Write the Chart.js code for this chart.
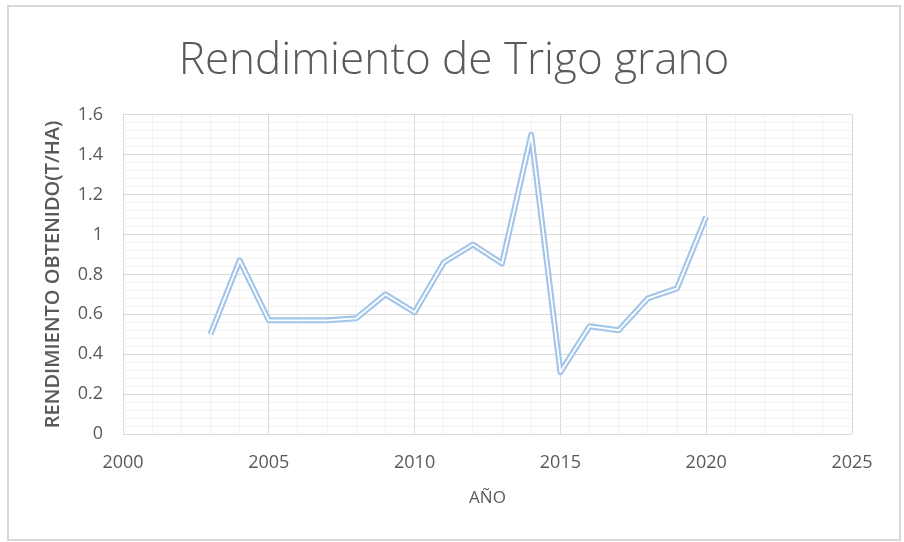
<!DOCTYPE html>
<html>
<head>
<meta charset="utf-8">
<script src="https://cdn.jsdelivr.net/npm/chart.js@4"></script>
<style>
    body { margin: 0; background: #fff; }
    #wrap { position: absolute; left: 0; top: 0; width: 904px; height: 542px; }
    #frame {
        position: absolute; left: 7px; top: 5px; width: 890px; height: 532px;
        border: 2px solid #d9d9d9; pointer-events: none;
    }
</style>
</head>
<body>
<div id="wrap"><canvas id="trigoChart" width="904" height="542"></canvas></div>
<div id="frame"></div>
<script>
const years = [2003, 2004, 2005, 2006, 2007, 2008, 2009, 2010, 2011, 2012, 2013, 2014, 2015, 2016, 2017, 2018, 2019, 2020];
const rendimiento = [0.50, 0.87, 0.57, 0.57, 0.57, 0.58, 0.70, 0.61, 0.86, 0.95, 0.855, 1.50, 0.31, 0.54, 0.52, 0.68, 0.73, 1.09];
const xRange = [2000, 2025];
const yRange = [0, 1.6];

const points = years.map((y, i) => ({ x: y, y: rendimiento[i] }));
const textColor = '#595959';
const fontFamily = "'Open Sans', 'Liberation Sans', sans-serif";

const ctx = document.getElementById('trigoChart').getContext('2d');
const trigoChart = new Chart(ctx, {
    type: 'line',
    data: {
        datasets: [
            // white core drawn on top of the blue stroke -> double line look
            { data: points, borderColor: '#ffffff', borderWidth: 1.8, pointRadius: 0, borderJoinStyle: 'round', order: 1 },
            { data: points, borderColor: '#a2c5e9', borderWidth: 6, pointRadius: 0, borderJoinStyle: 'round', order: 2 }
        ]
    },
    options: {
        responsive: false,
        animation: false,
        layout: { padding: { top: 12, left: 56, right: 52, bottom: 30 } },
        plugins: {
            legend: { display: false },
            tooltip: { enabled: false },
            title: {
                display: true,
                text: 'Rendimiento de Trigo grano',
                color: textColor,
                font: { family: fontFamily, size: 44, weight: '300' },
                padding: { top: 23, bottom: 27 }
            }
        },
        scales: {
            x: {
                type: 'linear',
                min: xRange[0],
                max: xRange[1],
                ticks: {
                    stepSize: 1,
                    autoSkip: false,
                    maxRotation: 0,
                    padding: 18,
                    color: textColor,
                    font: { family: fontFamily, size: 18 },
                    callback: v => (v % 5 === 0 ? String(v) : '')
                },
                grid: {
                    drawTicks: false,
                    color: c => (c.tick && c.tick.value % 5 === 0 ? '#d9d9d9' : '#f2f2f2')
                },
                border: { display: false },
                title: {
                    display: true,
                    text: 'AÑO',
                    color: textColor,
                    font: { family: fontFamily, size: 17 },
                    padding: { top: 12 }
                },
                afterFit: s => { s.height = 78; }
            },
            y: {
                min: yRange[0],
                max: yRange[1],
                ticks: {
                    stepSize: 0.04,
                    autoSkip: false,
                    padding: 20,
                    color: textColor,
                    font: { family: fontFamily, size: 18 },
                    callback: v => {
                        const r = Math.round(v * 100);
                        return r % 20 === 0 ? String(r / 100) : '';
                    }
                },
                grid: {
                    drawTicks: false,
                    color: c => (c.tick && Math.round(c.tick.value * 100) % 20 === 0 ? '#d9d9d9' : '#f2f2f2')
                },
                border: { display: false },
                title: {
                    display: true,
                    text: 'RENDIMIENTO OBTENIDO(T/HA)',
                    color: textColor,
                    font: { family: fontFamily, size: 20, weight: '600' },
                    padding: { top: -15, bottom: 0 }
                },
                afterFit: s => { s.width = 67; }
            }
        }
    }
});
</script>
</body>
</html>
